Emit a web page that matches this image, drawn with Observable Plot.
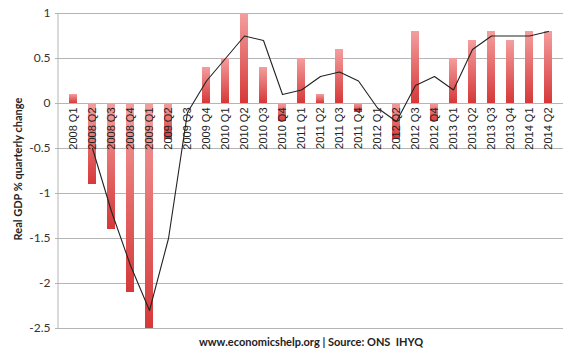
<!DOCTYPE html>
<html><head><meta charset="utf-8">
<script src="https://cdn.jsdelivr.net/npm/d3@7"></script>
<script src="https://cdn.jsdelivr.net/npm/@observablehq/plot@0.6"></script>
<style>body{margin:0;background:#fff}</style>
</head><body><div id="chart"></div>
<script>
const quarters = ["2008 Q1","2008 Q2","2008 Q3","2008 Q4","2009 Q1","2009 Q2","2009 Q3","2009 Q4",
  "2010 Q1","2010 Q2","2010 Q3","2010 Q4","2011 Q1","2011 Q2","2011 Q3","2011 Q4",
  "2012 Q1","2012 Q2","2012 Q3","2012 Q4","2013 Q1","2013 Q2","2013 Q3","2013 Q4","2014 Q1","2014 Q2"];
const growth = [0.1,-0.9,-1.4,-2.1,-2.5,-0.4,0,0.4,
  0.5,1.0,0.4,-0.2,0.5,0.1,0.6,-0.1,
  0,-0.4,0.8,-0.2,0.5,0.7,0.8,0.7,0.8,0.8];
const trend = [null,-0.5,-1.2,-1.8,-2.3,-1.5,-0.1,0.25,
  0.5,0.75,0.7,0.1,0.15,0.3,0.35,0.25,
  -0.05,-0.2,0.2,0.3,0.15,0.6,0.75,0.75,0.75,0.8];
const yTicks = [-2.5,-2,-1.5,-1,-0.5,0,0.5,1];
const yLabel = "Real GDP % quarterly change";
const caption = "www.economicshelp.org | Source: ONS  IHYQ";

const bars = quarters.map((q, i) => ({q, v: growth[i]}));
const line = quarters.map((q, i) => ({q, v: trend[i]})).filter(d => d.v != null);

const ns = "http://www.w3.org/2000/svg";
function gradientDefs() {
  const defs = document.createElementNS(ns, "defs");
  const g = document.createElementNS(ns, "linearGradient");
  g.setAttribute("id", "barGrad");
  g.setAttribute("x1", "0"); g.setAttribute("y1", "0");
  g.setAttribute("x2", "0"); g.setAttribute("y2", "1");
  [["0%", "#f49e9e"], ["100%", "#d63838"]].forEach(([o, c]) => {
    const s = document.createElementNS(ns, "stop");
    s.setAttribute("offset", o); s.setAttribute("stop-color", c);
    g.appendChild(s);
  });
  defs.appendChild(g);
  return defs;
}
function leftAxisLine(index, scales, values, dim) {
  const l = document.createElementNS(ns, "line");
  l.setAttribute("x1", dim.marginLeft); l.setAttribute("x2", dim.marginLeft);
  l.setAttribute("y1", dim.marginTop); l.setAttribute("y2", dim.height - dim.marginBottom);
  l.setAttribute("stroke", "#b5b5b5");
  return l;
}

const chart = Plot.plot({
  width: 574, height: 357,
  marginLeft: 58, marginRight: 11, marginTop: 13, marginBottom: 29,
  style: {fontFamily: "Lato, sans-serif", color: "#333", background: "#fff"},
  x: {type: "band", domain: quarters, paddingInner: 0.58, paddingOuter: 0.29, axis: null},
  y: {domain: [-2.5, 1], axis: null},
  marks: [
    gradientDefs,
    Plot.ruleY(yTicks, {stroke: "#b5b5b5", strokeWidth: 1}),
    leftAxisLine,
    Plot.axisY(yTicks, {tickSize: 3, tickPadding: 5, tickFormat: d => String(d), fontSize: 12,
      stroke: "#b5b5b5", fill: "#333", label: null}),
    Plot.barY(bars, {x: "q", y1: 0, y2: "v", fill: "url(#barGrad)"}),
    Plot.text(bars, {x: "q", y: 0, text: "q", rotate: -90, textAnchor: "end", dy: 4,
      fontSize: 11, fontFamily: "Liberation Sans, Arial, sans-serif", fill: "#222"}),
    Plot.line(line, {x: "q", y: "v", stroke: "#222", strokeWidth: 1.1}),
    Plot.text([yLabel], {frameAnchor: "left", rotate: -90, dx: -40, dy: -2,
      textAnchor: "middle", lineAnchor: "middle",
      fontWeight: "bold", fontSize: 11, fill: "#222"}),
    Plot.text([caption], {frameAnchor: "bottom", dy: 14, textAnchor: "middle", lineAnchor: "middle",
      fontWeight: "bold", fontSize: 11, fill: "#222"})
  ]
});
document.getElementById("chart").appendChild(chart);
</script>
</body></html>
